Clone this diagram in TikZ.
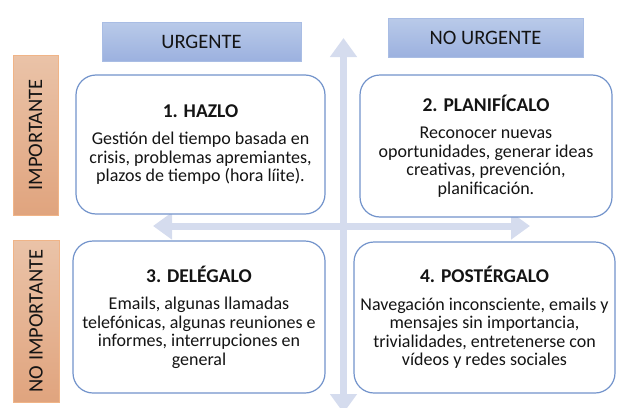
\documentclass[tikz,border=0pt]{standalone}
\usepackage{fontspec}
\setmainfont{Carlito}
\usepackage{tikz}
\usetikzlibrary{arrows.meta,positioning,backgrounds}
\definecolor{FrameBlue}{HTML}{7293CB}
\definecolor{HeadBlueTop}{HTML}{B9CAE9}
\definecolor{HeadBlueBot}{HTML}{9CB1DF}
\definecolor{HeadBlueLine}{HTML}{A9BDE4}
\definecolor{HeadOrangeTop}{HTML}{EAC3A8}
\definecolor{HeadOrangeBot}{HTML}{E0A47E}
\definecolor{HeadOrangeLine}{HTML}{F0B487}
\definecolor{AxisBlue}{HTML}{D5DCEE}
\definecolor{InkGray}{HTML}{141414}
\newcommand{\bodyfont}{\fontsize{18}{18.5}\selectfont}
\newcommand{\titlefont}{\fontsize{19.5}{22}\selectfont\bfseries}
\newcommand{\headfont}{\fontsize{20.5}{24}\selectfont}
\tikzset{
  quadbox/.style={draw=FrameBlue,line width=1.2pt,rounded corners=20pt,fill=white,align=center,
                  inner sep=0pt,font=\bodyfont,text=InkGray},
  bluehead/.style={draw=HeadBlueLine,line width=1pt,top color=HeadBlueTop,bottom color=HeadBlueBot,
                   font=\headfont,text=InkGray,inner sep=0pt},
  orangehead/.style={draw=HeadOrangeLine,line width=1pt,top color=HeadOrangeTop,bottom color=HeadOrangeBot,
                     font=\headfont,text=InkGray,inner sep=0pt,rotate=90},
  axis/.style={{Triangle[length=19pt,width=26pt]}-{Triangle[length=19pt,width=26pt]},line width=7pt,draw=AxisBlue}
}

\begin{document}
\begin{tikzpicture}[x=1pt,y=-1pt]
  \useasboundingbox (0,0) rectangle (637,407);

  % axes behind the quadrants
  \coordinate (vtop) at (343.5,38);
  \coordinate (vbot) at (343.5,413);
  \coordinate (hleft) at (153,226);
  \coordinate (hright) at (530,226);
  \draw[axis] (vbot) -- (vtop);
  \draw[axis] (hleft) -- (hright);

  % headers
  \node[bluehead,minimum width=199pt,minimum height=39pt] (urgent) at (201.5,41.5) {URGENTE};
  \node[bluehead,minimum width=195pt,minimum height=39pt] (noturgent) at (485.5,37.5) {NO URGENTE};
  \node[orangehead,minimum width=160pt,minimum height=45pt] (important) at (35.5,135) {IMPORTANTE};
  \node[orangehead,minimum width=162pt,minimum height=46pt] (notimportant) at (36,321) {NO IMPORTANTE};

  % quadrants
  \node[quadbox,minimum width=249pt,minimum height=139pt] (doit) at (200.5,144.5)
    {{\titlefont 1. HAZLO}\\[9pt]Gestión del tiempo basada en\\crisis, problemas apremiantes,\\plazos de tiempo (hora líite).};
  \node[quadbox,minimum width=252pt,minimum height=142pt] (plan) at (486,146)
    {{\titlefont 2. PLANIFÍCALO}\\[9pt]Reconocer nuevas\\oportunidades, generar ideas\\creativas, prevención,\\planificación.};
  \node[quadbox,minimum width=252pt,minimum height=152pt] (delegate) at (199,317)
    {{\titlefont 3. DELÉGALO}\\[9pt]Emails, algunas llamadas\\telefónicas, algunas reuniones e\\informes, interrupciones en\\general};
  \node[quadbox,minimum width=261pt,minimum height=151pt] (postpone) at (484.5,317.5)
    {{\titlefont 4. POSTÉRGALO}\\[9pt]Navegación inconsciente, emails y\\mensajes sin importancia,\\trivialidades, entretenerse con\\vídeos y redes sociales};
\end{tikzpicture}
\end{document}
